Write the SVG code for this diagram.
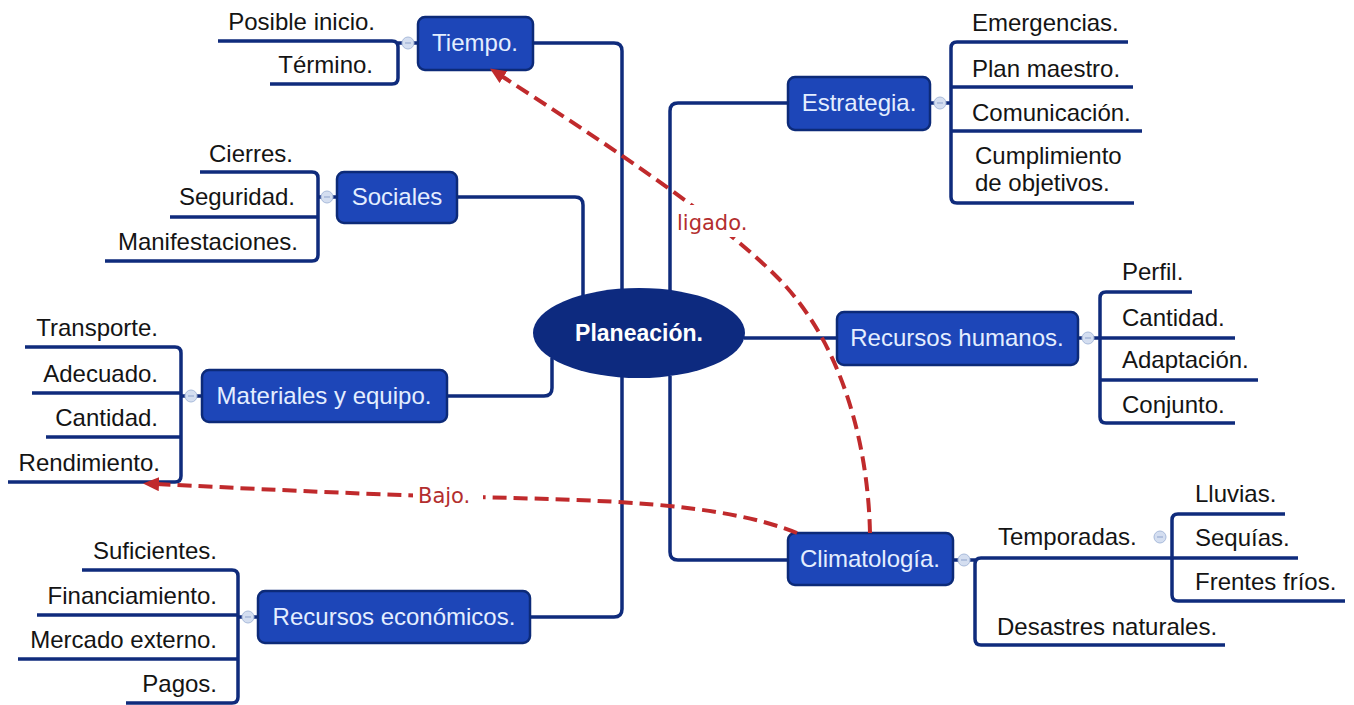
<svg xmlns="http://www.w3.org/2000/svg" width="1354" height="705" viewBox="0 0 1354 705">
  <defs>
    <style>
      .box { fill:#1d46b8; stroke:#0c2a78; stroke-width:2.5; }
      .bt { font-family:"Liberation Sans", Arial, sans-serif; font-size:24px; fill:#e4eeff; text-anchor:middle; }
      .t { font-family:"Liberation Sans", Arial, sans-serif; font-size:24px; fill:#141414; }
      .te { text-anchor:end; }
      .ln { fill:none; stroke:#0f2b7c; stroke-width:3.5; }
      .rel { fill:none; stroke:#c02a2c; stroke-width:4; stroke-dasharray:14 7; }
      .rl { font-family:"DejaVu Sans", "Noto Sans", sans-serif; font-size:21px; fill:#b32e2e; }
      .tog { fill:#d4def0; stroke:#a9bbdb; stroke-width:1; }
      .togm { stroke:#8ea3cc; stroke-width:1; }
    </style>
    <marker id="arrow" viewBox="0 0 16 14" markerWidth="16" markerHeight="14" refX="4" refY="7" orient="auto" markerUnits="userSpaceOnUse">
      <path d="M0,0 L16,7 L0,14 z" fill="#c02a2c"/>
    </marker>
    <g id="toggle">
      <circle class="tog" r="6"/>
      <line class="togm" x1="-3" y1="0" x2="3" y2="0"/>
    </g>
  </defs>

  <rect width="1354" height="705" fill="#ffffff"/>

  <!-- main branches from the central topic -->
  <g id="connectors">
    <path class="ln" d="M533,43 H614 Q622,43 622,51 V291"/>
    <path class="ln" d="M457,197 H575 Q583,197 583,205 V296"/>
    <path class="ln" d="M670,291 V111 Q670,103 678,103 H788"/>
    <path class="ln" d="M744,338 H837"/>
    <path class="ln" d="M447,396 H544 Q552,396 552,388 V358"/>
    <path class="ln" d="M622,376 V609 Q622,617 614,617 H530"/>
    <path class="ln" d="M670,376 V552 Q670,560 678,560 H788"/>
  </g>

  <!-- central topic -->
  <g id="planeacion">
    <ellipse cx="639" cy="333" rx="106" ry="45" fill="#0d2a7f"/>
    <text x="639" y="341" font-family="Liberation Sans, Arial, sans-serif" font-size="23" font-weight="bold" fill="#ffffff" text-anchor="middle">Planeación.</text>
  </g>

  <!-- Tiempo -->
  <g id="tiempo">
    <path class="ln" d="M218,41 H392 Q398,41 398,47 V78 Q398,84 392,84 H270"/>
    <path class="ln" d="M398,43 H418"/>
    <use href="#toggle" x="408" y="43"/>
    <rect class="box" x="418" y="17" width="115" height="53" rx="7"/>
    <text class="bt" x="475" y="51">Tiempo.</text>
    <text class="t te" x="375" y="30">Posible inicio.</text>
    <text class="t te" x="373" y="73">Término.</text>
  </g>

  <!-- Sociales -->
  <g id="sociales">
    <path class="ln" d="M200,172 H312 Q318,172 318,178 V255 Q318,261 312,261 H105"/>
    <path class="ln" d="M170,217 H318"/>
    <path class="ln" d="M318,197 H337"/>
    <use href="#toggle" x="327" y="197"/>
    <rect class="box" x="337" y="172" width="120" height="51" rx="7"/>
    <text class="bt" x="397" y="205">Sociales</text>
    <text class="t te" x="293" y="162">Cierres.</text>
    <text class="t te" x="295" y="205">Seguridad.</text>
    <text class="t te" x="298" y="250">Manifestaciones.</text>
  </g>

  <!-- Materiales y equipo -->
  <g id="materiales">
    <path class="ln" d="M25,347 H175 Q181,347 181,353 V476 Q181,482 175,482 H8"/>
    <path class="ln" d="M32,393 H181"/>
    <path class="ln" d="M46,437 H181"/>
    <path class="ln" d="M181,396 H202"/>
    <use href="#toggle" x="191" y="396"/>
    <rect class="box" x="202" y="370" width="245" height="52" rx="7"/>
    <text class="bt" x="324" y="404">Materiales y equipo.</text>
    <text class="t te" x="158" y="336">Transporte.</text>
    <text class="t te" x="158" y="382">Adecuado.</text>
    <text class="t te" x="158" y="426">Cantidad.</text>
    <text class="t te" x="160" y="471">Rendimiento.</text>
  </g>

  <!-- Recursos económicos -->
  <g id="economicos">
    <path class="ln" d="M82,570 H232 Q238,570 238,576 V697 Q238,703 232,703 H126"/>
    <path class="ln" d="M37,615 H238"/>
    <path class="ln" d="M18,659 H238"/>
    <path class="ln" d="M238,617 H258"/>
    <use href="#toggle" x="248" y="617"/>
    <rect class="box" x="258" y="591" width="272" height="52" rx="7"/>
    <text class="bt" x="394" y="625">Recursos económicos.</text>
    <text class="t te" x="217" y="559">Suficientes.</text>
    <text class="t te" x="217" y="604">Financiamiento.</text>
    <text class="t te" x="217" y="648">Mercado externo.</text>
    <text class="t te" x="217" y="692">Pagos.</text>
  </g>

  <!-- Estrategia -->
  <g id="estrategia">
    <path class="ln" d="M1128,42 H957 Q951,42 951,48 V197 Q951,203 957,203 H1134"/>
    <path class="ln" d="M951,87 H1133"/>
    <path class="ln" d="M951,131 H1142"/>
    <path class="ln" d="M930,103 H951"/>
    <use href="#toggle" x="940" y="103"/>
    <rect class="box" x="788" y="77" width="142" height="53" rx="7"/>
    <text class="bt" x="859" y="111">Estrategia.</text>
    <text class="t" x="972" y="31">Emergencias.</text>
    <text class="t" x="972" y="77">Plan maestro.</text>
    <text class="t" x="972" y="121">Comunicación.</text>
    <text class="t" x="975" y="164">Cumplimiento</text>
    <text class="t" x="975" y="191">de objetivos.</text>
  </g>

  <!-- Recursos humanos -->
  <g id="humanos">
    <path class="ln" d="M1192,292 H1106 Q1100,292 1100,298 V417 Q1100,423 1106,423 H1235"/>
    <path class="ln" d="M1100,338 H1235"/>
    <path class="ln" d="M1100,380 H1258"/>
    <path class="ln" d="M1078,338 H1100"/>
    <use href="#toggle" x="1088" y="338"/>
    <rect class="box" x="837" y="312" width="241" height="53" rx="7"/>
    <text class="bt" x="957" y="346">Recursos humanos.</text>
    <text class="t" x="1122" y="280">Perfil.</text>
    <text class="t" x="1122" y="326">Cantidad.</text>
    <text class="t" x="1122" y="368">Adaptación.</text>
    <text class="t" x="1122" y="413">Conjunto.</text>
  </g>

  <!-- Climatología -->
  <g id="climatologia">
    <path class="ln" d="M1172,558 H981 Q975,558 975,564 V639 Q975,645 981,645 H1225"/>
    <path class="ln" d="M1285,514 H1178 Q1172,514 1172,520 V595 Q1172,601 1178,601 H1345"/>
    <path class="ln" d="M1172,558 H1298"/>
    <path class="ln" d="M953,560 H975"/>
    <use href="#toggle" x="964" y="560"/>
    <use href="#toggle" x="1160" y="537"/>
    <rect class="box" x="788" y="533" width="165" height="52" rx="7"/>
    <text class="bt" x="870" y="567">Climatología.</text>
    <text class="t" x="998" y="545">Temporadas.</text>
    <text class="t" x="997" y="635">Desastres naturales.</text>
    <text class="t" x="1195" y="502">Lluvias.</text>
    <text class="t" x="1195" y="546">Sequías.</text>
    <text class="t" x="1195" y="590">Frentes fríos.</text>
  </g>

  <!-- cross links -->
  <g id="relations">
    <path class="rel" d="M870,533 C868,440 840,340 777,277 S600,140 500,75" marker-end="url(#arrow)"/>
    <path class="rel" d="M797,533 C720,502 600,500 470,497 C350,494 240,488 155,484" marker-end="url(#arrow)"/>
    <rect x="675" y="205" width="80" height="32" fill="#ffffff"/>
    <text class="rl" x="677" y="230">ligado.</text>
    <rect x="413" y="483" width="70" height="27" fill="#ffffff"/>
    <text class="rl" x="418" y="503">Bajo.</text>
  </g>
</svg>
